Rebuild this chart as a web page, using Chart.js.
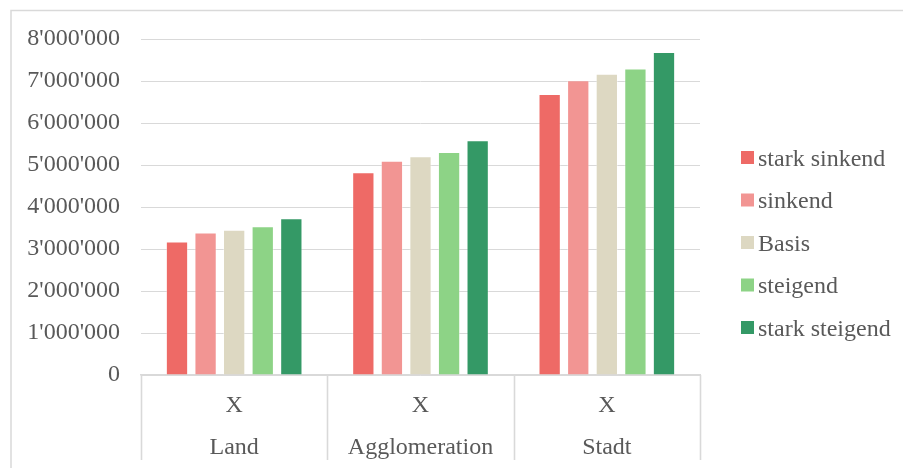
<!DOCTYPE html>
<html>
<head>
<meta charset="utf-8">
<script src="https://cdn.jsdelivr.net/npm/chart.js@4/dist/chart.umd.min.js"></script>
<style>
  html, body { margin: 0; padding: 0; background: #ffffff; }
  #wrap { width: 903px; height: 468px; position: relative; }
</style>
</head>
<body>
<div id="wrap"><canvas id="c" width="903" height="468"></canvas></div>
<script>
// Regions and their sub-label
const categories = ['Land', 'Agglomeration', 'Stadt'];
const subLabel = 'X';

// Scenario series (values per region)
const starkSinkend   = [3180000, 4830000, 6690000];
const sinkend        = [3390000, 5100000, 7020000];
const basis          = [3460000, 5210000, 7170000];
const steigend       = [3540000, 5310000, 7300000];
const starkSteigend  = [3730000, 5590000, 7690000];

const seriesNames  = ['stark sinkend', 'sinkend', 'Basis', 'steigend', 'stark steigend'];
const seriesColors = ['#EE6A66', '#F29593', '#DDD8C2', '#8DD386', '#349966'];

// Y axis range
const yMin = 0;
const yMax = 8000000;
const yStep = 1000000;

const FONT = '"Liberation Serif", "Times New Roman", serif';
const TEXT = '#595959';
const LINE = '#D9D9D9';

function fmt(v) {
  return String(Math.round(v)).replace(/\B(?=(\d{3})+(?!\d))/g, "'");
}

const seriesValues = [starkSinkend, sinkend, basis, steigend, starkSteigend];
const datasets = seriesNames.map((name, i) => ({
  label: name,
  data: seriesValues[i],
  backgroundColor: seriesColors[i],
  borderColor: 'rgba(255,255,255,0.35)',
  borderWidth: 1,
  categoryPercentage: 0.767,
  barPercentage: 0.78
}));

// Frame, category separators and the side legend
const decorations = {
  id: 'decorations',
  beforeDraw(chart) {
    const ctx = chart.ctx;
    ctx.save();
    ctx.strokeStyle = LINE;
    ctx.lineWidth = 1.5;
    ctx.beginPath();
    ctx.moveTo(11, chart.height);
    ctx.lineTo(11, 10.5);
    ctx.lineTo(chart.width, 10.5);
    ctx.stroke();
    ctx.restore();
  },
  afterDraw(chart) {
    const ctx = chart.ctx;
    const xs = chart.scales.x;
    const area = chart.chartArea;
    const n = chart.data.labels.length;
    const step = (xs.right - xs.left) / n;
    ctx.save();
    ctx.strokeStyle = LINE;
    ctx.lineWidth = 1.6;
    ctx.beginPath();
    for (let i = 0; i <= n; i++) {
      const x = Math.round(xs.left + i * step) + 0.5;
      ctx.moveTo(x, area.bottom);
      ctx.lineTo(x, 460);
    }
    ctx.stroke();

    // legend
    ctx.font = '24px ' + FONT;
    ctx.textBaseline = 'alphabetic';
    ctx.textAlign = 'left';
    chart.data.datasets.forEach((ds, i) => {
      const cy = 157.5 + i * 42.5;
      const bx = area.right + 41;
      ctx.fillStyle = ds.backgroundColor;
      ctx.fillRect(bx, cy - 6.5, 13, 13);
      ctx.fillStyle = TEXT;
      ctx.fillText(ds.label, bx + 17, cy + 8);
    });
    ctx.restore();
  }
};

new Chart(document.getElementById('c'), {
  type: 'bar',
  data: {
    labels: categories.map(c => [subLabel, c]),
    datasets: datasets
  },
  options: {
    responsive: false,
    animation: false,
    layout: { padding: { top: 39, right: 203, left: 0, bottom: 0 } },
    plugins: {
      legend: { display: false },
      tooltip: { enabled: false }
    },
    scales: {
      x: {
        grid: { display: false },
        border: { display: true, color: LINE, width: 1.5 },
        ticks: {
          color: TEXT,
          font: { family: FONT, size: 24, lineHeight: 1.75 },
          padding: 2,
          maxRotation: 0,
          autoSkip: false
        },
        afterFit(scale) { scale.height = 93; }
      },
      y: {
        min: yMin,
        max: yMax,
        grid: { color: LINE, lineWidth: 1, drawTicks: false },
        border: { display: false },
        ticks: {
          stepSize: yStep,
          color: TEXT,
          font: { family: FONT, size: 24 },
          padding: 21,
          callback: v => fmt(v)
        },
        afterFit(scale) { scale.width = 141; }
      }
    }
  },
  plugins: [decorations]
});
</script>
</body>
</html>
